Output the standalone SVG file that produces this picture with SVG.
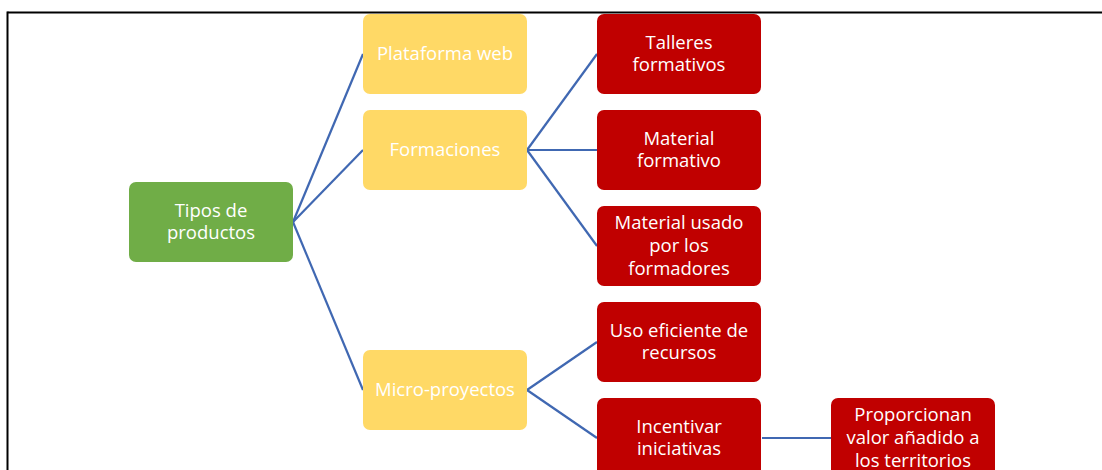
<svg xmlns="http://www.w3.org/2000/svg" width="1102" height="470" viewBox="0 0 1102 470">
<style>
.n rect{stroke:none}
.g{fill:#70AD47}
.y{fill:#FFD966}
.r{fill:#C00000}
text{font-family:"Open Sans","Liberation Sans",sans-serif;font-size:18.5px;fill:#FFFFFF;text-anchor:middle}
.c line{stroke:#4068B2;stroke-width:2.2;fill:none}
</style>
<rect x="0" y="0" width="1102" height="470" fill="#FFFFFF"/>
<g id="frame">
<line x1="7.5" y1="12.5" x2="1102" y2="12.5" stroke="#000" stroke-width="2"/>
<line x1="7.5" y1="11.5" x2="7.5" y2="470" stroke="#000" stroke-width="2"/>
</g>
<g id="connectors" class="c">
<line x1="293" y1="222" x2="363" y2="54"/>
<line x1="293" y1="222" x2="363" y2="150"/>
<line x1="293" y1="222" x2="363" y2="390"/>
<line x1="527" y1="150" x2="597" y2="54"/>
<line x1="527" y1="150" x2="597" y2="150"/>
<line x1="527" y1="150" x2="597" y2="246"/>
<line x1="527" y1="390" x2="597" y2="342"/>
<line x1="527" y1="390" x2="597" y2="438"/>
<line x1="762" y1="438" x2="831" y2="438"/>
</g>
<g id="tipos" class="n"><rect class="g" x="129" y="182" width="164" height="80" rx="7"/><text x="211" y="217">Tipos de</text><text x="211" y="239">productos</text></g>
<g id="plataforma" class="n"><rect class="y" x="363" y="14" width="164" height="80" rx="7"/><text x="445" y="60">Plataforma web</text></g>
<g id="formaciones" class="n"><rect class="y" x="363" y="110" width="164" height="80" rx="7"/><text x="445" y="156">Formaciones</text></g>
<g id="micro" class="n"><rect class="y" x="363" y="350" width="164" height="80" rx="7"/><text x="445" y="396">Micro-proyectos</text></g>
<g id="talleres" class="n"><rect class="r" x="597" y="14" width="164" height="80" rx="7"/><text x="679" y="49">Talleres</text><text x="679" y="71">formativos</text></g>
<g id="materialformativo" class="n"><rect class="r" x="597" y="110" width="164" height="80" rx="7"/><text x="679" y="145">Material</text><text x="679" y="167">formativo</text></g>
<g id="materialusado" class="n"><rect class="r" x="597" y="206" width="164" height="80" rx="7"/><text x="679" y="229">Material usado</text><text x="679" y="252">por los</text><text x="679" y="275">formadores</text></g>
<g id="uso" class="n"><rect class="r" x="597" y="302" width="164" height="80" rx="7"/><text x="679" y="337">Uso eficiente de</text><text x="679" y="359">recursos</text></g>
<g id="incentivar" class="n"><rect class="r" x="597" y="398" width="164" height="80" rx="7"/><text x="679" y="433">Incentivar</text><text x="679" y="455">iniciativas</text></g>
<g id="proporcionan" class="n"><rect class="r" x="831" y="398" width="164" height="80" rx="7"/><text x="913" y="421">Proporcionan</text><text x="913" y="444">valor añadido a</text><text x="913" y="467">los territorios</text></g>
</svg>
